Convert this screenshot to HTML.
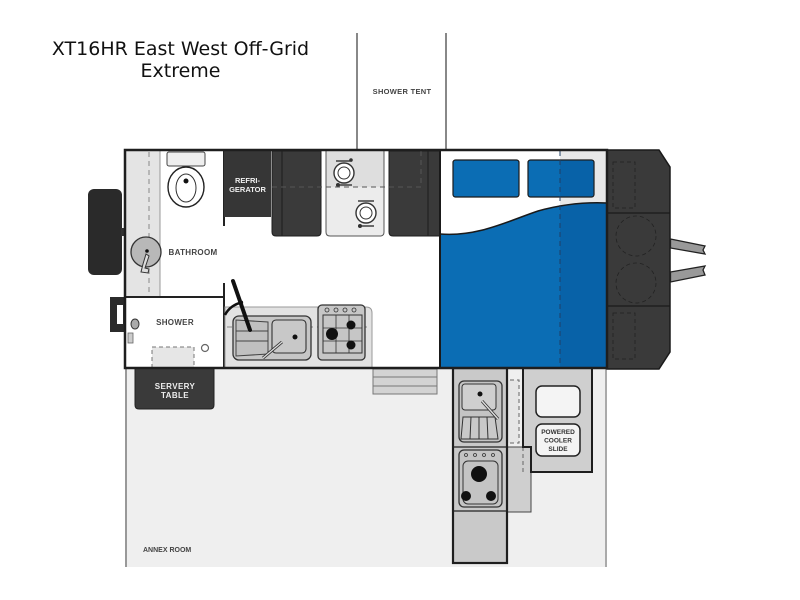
<!DOCTYPE html>
<html>
<head>
<meta charset="utf-8">
<style>
html,body{margin:0;padding:0;background:#fff;}
svg{display:block;}
.lbl{font-family:"Liberation Sans",sans-serif;font-weight:bold;}
</style>
</head>
<body>
<svg width="800" height="600" viewBox="0 0 800 600" xmlns="http://www.w3.org/2000/svg">
<defs>
<clipPath id="bedclip">
<path d="M440,234 C478,237 508,221 538,211 C563,204 585,202 607,203 L607,368 L440,368 Z"/>
</clipPath>
</defs>

<!-- Title -->
<text x="180.5" y="55" text-anchor="middle" font-family="DejaVu Sans, sans-serif" font-size="19" fill="#111">XT16HR East West Off-Grid</text>
<text x="180.5" y="77" text-anchor="middle" font-family="DejaVu Sans, sans-serif" font-size="19" fill="#111">Extreme</text>

<!-- Shower tent -->
<line x1="357" y1="33" x2="357" y2="150" stroke="#888" stroke-width="2"/>
<line x1="446" y1="33" x2="446" y2="150" stroke="#888" stroke-width="2"/>
<text x="402" y="94" text-anchor="middle" class="lbl" font-size="7.5" fill="#444" letter-spacing="0.3">SHOWER TENT</text>

<!-- Annex room -->
<rect x="125" y="368" width="482" height="199" fill="#efefef"/>
<line x1="126" y1="368" x2="126" y2="567" stroke="#999" stroke-width="2"/>
<line x1="606" y1="368" x2="606" y2="567" stroke="#aaa" stroke-width="2"/>
<text x="143" y="552" class="lbl" font-size="7" fill="#444">ANNEX ROOM</text>

<!-- Servery table -->
<path d="M135,368 L214,368 L214,405 Q214,409 210,409 L139,409 Q135,409 135,405 Z" fill="#3a3a3a" stroke="#222" stroke-width="1"/>
<text x="175" y="389" text-anchor="middle" class="lbl" font-size="8" fill="#eee" letter-spacing="0.4">SERVERY</text>
<text x="175" y="398" text-anchor="middle" class="lbl" font-size="8" fill="#eee" letter-spacing="0.4">TABLE</text>

<!-- Steps -->
<rect x="373" y="369" width="64" height="25" fill="#d3d3d3" stroke="#777" stroke-width="1"/>
<line x1="373" y1="377" x2="437" y2="377" stroke="#777" stroke-width="1"/>
<line x1="373" y1="386" x2="437" y2="386" stroke="#777" stroke-width="1"/>

<!-- Outdoor kitchen -->
<rect x="507" y="447" width="24" height="65" fill="#cfcfcf" stroke="#444" stroke-width="1"/>
<rect x="503" y="380" width="16" height="63" fill="#e6e6e6" stroke="#666" stroke-width="1" stroke-dasharray="4,3"/>
<line x1="523" y1="447" x2="523" y2="472" stroke="#666" stroke-width="1" stroke-dasharray="4,3"/>
<rect x="453" y="368" width="54" height="195" fill="#c9c9c9" stroke="#1e1e1e" stroke-width="2.2"/>
<rect x="459" y="381" width="43" height="61" rx="5" fill="#c4c4c4" stroke="#333" stroke-width="1.3"/>
<rect x="462" y="384" width="34" height="26" rx="3" fill="#cfcfcf" stroke="#333" stroke-width="1"/>
<circle cx="480" cy="394" r="2.5" fill="#111"/>
<path d="M463,417 L495,417 L498,439 L461,439 Z" fill="#c9c9c9" stroke="#333" stroke-width="1"/>
<line x1="471" y1="417" x2="470" y2="439" stroke="#333" stroke-width="1"/>
<line x1="479" y1="417" x2="479" y2="439" stroke="#333" stroke-width="1"/>
<line x1="487" y1="417" x2="488" y2="439" stroke="#333" stroke-width="1"/>
<line x1="482" y1="401" x2="498" y2="419" stroke="#333" stroke-width="3"/>
<line x1="482" y1="401" x2="498" y2="419" stroke="#ddd" stroke-width="1.4"/>
<line x1="453" y1="447" x2="507" y2="447" stroke="#222" stroke-width="1.3"/>
<rect x="459" y="450" width="43" height="57" rx="5" fill="#c4c4c4" stroke="#333" stroke-width="1.3"/>
<circle cx="466" cy="455" r="1.5" fill="none" stroke="#333" stroke-width="0.8"/>
<circle cx="475" cy="455" r="1.5" fill="none" stroke="#333" stroke-width="0.8"/>
<circle cx="484" cy="455" r="1.5" fill="none" stroke="#333" stroke-width="0.8"/>
<circle cx="493" cy="455" r="1.5" fill="none" stroke="#333" stroke-width="0.8"/>
<rect x="463" y="461" width="35" height="43" rx="5" fill="none" stroke="#333" stroke-width="1"/>
<circle cx="479" cy="474" r="8" fill="#111"/>
<circle cx="466" cy="496" r="5" fill="#111"/>
<circle cx="491" cy="496" r="5" fill="#111"/>
<line x1="453" y1="511" x2="507" y2="511" stroke="#222" stroke-width="1.3"/>

<!-- Powered cooler slide -->
<path d="M523,368 L592,368 L592,472 L531,472 L531,447 L523,447 Z" fill="#cfcfcf" stroke="#1e1e1e" stroke-width="2"/>
<rect x="536" y="386" width="44" height="31" rx="6" fill="#f4f4f4" stroke="#222" stroke-width="1.5"/>
<rect x="536" y="424" width="44" height="32" rx="6" fill="#f4f4f4" stroke="#222" stroke-width="1.5"/>
<text x="558" y="434" text-anchor="middle" class="lbl" font-size="6.5" fill="#333">POWERED</text>
<text x="558" y="442.5" text-anchor="middle" class="lbl" font-size="6.5" fill="#333">COOLER</text>
<text x="558" y="451" text-anchor="middle" class="lbl" font-size="6.5" fill="#333">SLIDE</text>

<!-- Main body interior -->
<rect x="125" y="150" width="482" height="218" fill="#fff"/>

<!-- Bathroom strip -->
<rect x="125" y="150" width="35" height="147" fill="#e4e4e4"/>
<line x1="160" y1="150" x2="160" y2="297" stroke="#999" stroke-width="1"/>
<line x1="149" y1="152" x2="149" y2="295" stroke="#888" stroke-width="1" stroke-dasharray="5,4"/>
<!-- toilet -->
<rect x="167" y="152" width="38" height="14" rx="2" fill="#eee" stroke="#444" stroke-width="1"/>
<ellipse cx="186" cy="187" rx="18" ry="20" fill="#fff" stroke="#222" stroke-width="1.4"/>
<ellipse cx="186" cy="188" rx="10" ry="14" fill="#fff" stroke="#333" stroke-width="1"/>
<circle cx="186" cy="181" r="2.5" fill="#111"/>
<!-- basin -->
<circle cx="146" cy="252" r="15" fill="#b8b8b8" stroke="#333" stroke-width="1.3"/>
<circle cx="147" cy="251" r="1.8" fill="#111"/>
<path d="M146,254 L143,264 L141,272 L148,273 L149,269 L145,268 L149,256 Z" fill="#ddd" stroke="#333" stroke-width="1"/>
<text x="193" y="255" text-anchor="middle" class="lbl" font-size="8" fill="#444" letter-spacing="0.3">BATHROOM</text>
<line x1="125" y1="297" x2="224" y2="297" stroke="#222" stroke-width="2"/>

<!-- Wheel -->
<rect x="88" y="189" width="34" height="86" rx="6" fill="#2a2a2a"/>
<rect x="121" y="228" width="5" height="8" fill="#333"/>

<!-- Shower -->
<text x="175" y="325" text-anchor="middle" class="lbl" font-size="8" fill="#444" letter-spacing="0.3">SHOWER</text>
<rect x="110" y="297" width="15" height="35" fill="#2b2b2b"/>
<rect x="117" y="305" width="6" height="19" fill="#fff"/>
<rect x="128" y="333" width="5" height="10" fill="#ccc" stroke="#666" stroke-width="0.8"/>
<ellipse cx="135" cy="324" rx="4" ry="5" fill="#aaa" stroke="#333" stroke-width="1"/>
<rect x="152" y="347" width="42" height="21" fill="#e6e6e6" stroke="#777" stroke-width="1" stroke-dasharray="4,3"/>
<circle cx="205" cy="348" r="3.5" fill="#fff" stroke="#666" stroke-width="1.2"/>

<!-- Bathroom/kitchen wall -->
<line x1="224" y1="150" x2="224" y2="226" stroke="#222" stroke-width="2"/>
<line x1="224" y1="283" x2="224" y2="368" stroke="#222" stroke-width="2"/>

<!-- Fridge -->
<rect x="224" y="151" width="47" height="66" fill="#363636"/>
<text x="247.5" y="183" text-anchor="middle" class="lbl" font-size="7.5" fill="#f0f0f0">REFRI-</text>
<text x="247.5" y="192" text-anchor="middle" class="lbl" font-size="7.5" fill="#f0f0f0">GERATOR</text>

<!-- Dinette seats -->
<path d="M272,151 L321,151 L321,232 Q321,236 317,236 L276,236 Q272,236 272,232 Z" fill="#3a3a3a" stroke="#1e1e1e" stroke-width="1"/>
<line x1="282" y1="151" x2="282" y2="236" stroke="#222" stroke-width="1.2"/>
<path d="M389,151 L440,151 L440,236 L393,236 Q389,236 389,232 Z" fill="#3a3a3a" stroke="#1e1e1e" stroke-width="1"/>
<line x1="428" y1="151" x2="428" y2="236" stroke="#222" stroke-width="1.2"/>
<!-- Table -->
<path d="M326,151 L384,151 L384,232 Q384,236 380,236 L330,236 Q326,236 326,232 Z" fill="#ececec" stroke="#555" stroke-width="1"/>
<rect x="326.5" y="151" width="57" height="36" fill="#dedede"/>
<circle cx="344" cy="173" r="10" fill="#fff" stroke="#333" stroke-width="1.4"/>
<circle cx="344" cy="173" r="6" fill="none" stroke="#333" stroke-width="1"/>
<line x1="336" y1="161" x2="352" y2="161" stroke="#333" stroke-width="1.4"/>
<circle cx="351" cy="160" r="1.8" fill="#333"/>
<line x1="336" y1="185" x2="352" y2="185" stroke="#333" stroke-width="1.4"/>
<circle cx="338" cy="185" r="2" fill="#333"/>
<circle cx="366" cy="213" r="10" fill="#fff" stroke="#333" stroke-width="1.4"/>
<circle cx="366" cy="213" r="6" fill="none" stroke="#333" stroke-width="1"/>
<line x1="358" y1="201" x2="374" y2="201" stroke="#333" stroke-width="1.4"/>
<line x1="358" y1="226" x2="374" y2="226" stroke="#333" stroke-width="1.4"/>
<circle cx="360" cy="226" r="2" fill="#333"/>
<!-- dashed line -->
<path d="M272,187 L421,187 L421,151" fill="none" stroke="#555" stroke-width="1" stroke-dasharray="5,4"/>

<!-- Kitchen counter -->
<path d="M225,307 L366,307 Q372,307 372,313 L372,368 L225,368 Z" fill="#e2e2e2" stroke="#999" stroke-width="1"/>
<line x1="227" y1="327" x2="370" y2="327" stroke="#888" stroke-width="1" stroke-dasharray="5,4"/>
<rect x="233" y="316" width="78" height="44" rx="6" fill="#c6c6c6" stroke="#333" stroke-width="1.3"/>
<path d="M236,320 L268,322 L268,354 L236,356 Z" fill="#c0c0c0" stroke="#444" stroke-width="1"/>
<line x1="236" y1="331" x2="268" y2="331" stroke="#444" stroke-width="1"/>
<line x1="236" y1="341" x2="268" y2="341" stroke="#444" stroke-width="1"/>
<rect x="272" y="320" width="34" height="33" rx="4" fill="#c8c8c8" stroke="#333" stroke-width="1.1"/>
<circle cx="295" cy="337" r="2.5" fill="#111"/>
<line x1="282" y1="342" x2="263" y2="358" stroke="#333" stroke-width="3"/>
<line x1="282" y1="342" x2="263" y2="358" stroke="#ddd" stroke-width="1.3"/>
<rect x="318" y="305" width="47" height="55" rx="4" fill="#c6c6c6" stroke="#333" stroke-width="1.3"/>
<circle cx="327" cy="310" r="2" fill="none" stroke="#333" stroke-width="0.8"/>
<circle cx="336" cy="310" r="2" fill="none" stroke="#333" stroke-width="0.8"/>
<circle cx="345" cy="310" r="2" fill="none" stroke="#333" stroke-width="0.8"/>
<circle cx="354" cy="310" r="2" fill="none" stroke="#333" stroke-width="0.8"/>
<rect x="323" y="315" width="39" height="38" fill="none" stroke="#333" stroke-width="1"/>
<line x1="336" y1="315" x2="336" y2="353" stroke="#333" stroke-width="0.8"/>
<line x1="349" y1="315" x2="349" y2="353" stroke="#333" stroke-width="0.8"/>
<line x1="323" y1="328" x2="362" y2="328" stroke="#333" stroke-width="0.8"/>
<line x1="323" y1="341" x2="362" y2="341" stroke="#333" stroke-width="0.8"/>
<circle cx="332" cy="334" r="6" fill="#111"/>
<circle cx="351" cy="325" r="4.5" fill="#111"/>
<circle cx="351" cy="345" r="4.5" fill="#111"/>
<!-- black handle -->
<line x1="233" y1="281" x2="250" y2="330" stroke="#111" stroke-width="4" stroke-linecap="round"/>
<path d="M225,315 Q230,305 243,302" fill="none" stroke="#111" stroke-width="2.5"/>

<!-- Bed area -->
<rect x="440" y="151" width="120" height="217" fill="#fff"/>
<rect x="560" y="151" width="47" height="217" fill="#e8e8e8"/>
<g clip-path="url(#bedclip)">
<rect x="440" y="190" width="167" height="178" fill="#0b6db4"/>
<rect x="560" y="190" width="47" height="178" fill="#0862a8"/>
</g>
<path d="M440,234 C478,237 508,221 538,211 C563,204 585,202 607,203" fill="none" stroke="#1a1a1a" stroke-width="1.5"/>
<rect x="453" y="160" width="66" height="37" rx="2.5" fill="#0b6db4" stroke="#1a1a1a" stroke-width="1.2"/>
<rect x="528" y="160" width="66" height="37" rx="2.5" fill="#0b6db4" stroke="#1a1a1a" stroke-width="1.2"/>
<rect x="560" y="161" width="33" height="35" fill="#0862a8"/>
<line x1="560" y1="151" x2="560" y2="368" stroke="#1f3f66" stroke-width="1" stroke-dasharray="5,4"/>
<line x1="440" y1="150" x2="440" y2="368" stroke="#1a1a1a" stroke-width="2"/>

<!-- Front storage box -->
<path d="M607,150 L659,150 L670,167 L670,352 L659,369 L607,369 Z" fill="#3a3a3a" stroke="#1a1a1a" stroke-width="1.5"/>
<line x1="607" y1="213" x2="670" y2="213" stroke="#1a1a1a" stroke-width="1.3"/>
<line x1="607" y1="306" x2="670" y2="306" stroke="#1a1a1a" stroke-width="1.3"/>
<rect x="613" y="162" width="22" height="46" fill="none" stroke="#222" stroke-width="0.8" stroke-dasharray="4,3"/>
<rect x="613" y="313" width="22" height="46" fill="none" stroke="#222" stroke-width="0.8" stroke-dasharray="4,3"/>
<circle cx="636" cy="236" r="20" fill="none" stroke="#222" stroke-width="0.8" stroke-dasharray="4,3"/>
<circle cx="636" cy="283" r="20" fill="none" stroke="#222" stroke-width="0.8" stroke-dasharray="4,3"/>
<!-- hitch bars -->
<path d="M670.5,239 L705,246 L703,250 L705,254 L670.5,248 Z" fill="#999" stroke="#222" stroke-width="1.3"/>
<path d="M670.5,272 L705,266 L703,270 L705,275 L670.5,282 Z" fill="#999" stroke="#222" stroke-width="1.3"/>

<!-- Main outline -->
<rect x="125" y="150" width="482" height="218" fill="none" stroke="#1e1e1e" stroke-width="2.5"/>
</svg>
</body>
</html>
